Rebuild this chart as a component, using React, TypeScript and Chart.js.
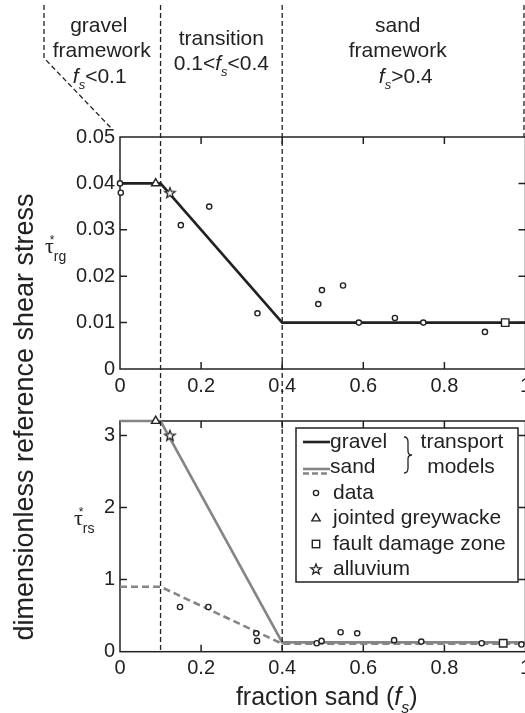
import React, { useEffect, useRef } from 'react';
import { Chart, registerables } from 'chart.js';

Chart.register(...registerables);

// ---------- data ----------
const xTicks = [0, 0.2, 0.4, 0.6, 0.8, 1];
const xTickLabels = ['0', '0.2', '0.4', '0.6', '0.8', '1'];

const gTicks = [0, 0.01, 0.02, 0.03, 0.04, 0.05];
const gTickLabels = ['0', '0.01', '0.02', '0.03', '0.04', '0.05'];
const sTicks = [0, 1, 2, 3];
const sTickLabels = ['0', '1', '2', '3'];

const regionBounds = [0.1, 0.4];
const regionRightEdge = 1;

// top panel: gravel reference shear stress
const gravelModelX = [0, 0.1, 0.4, 1];
const gravelModelY = [0.04, 0.04, 0.01, 0.01];
const gravelDataX = [0, 0.002, 0.15, 0.22, 0.339, 0.489, 0.498, 0.55, 0.589, 0.678, 0.748, 0.9];
const gravelDataY = [0.04, 0.038, 0.031, 0.035, 0.012, 0.014, 0.017, 0.018, 0.01, 0.011, 0.01, 0.008];
const gravelGreywackeX = [0.088];
const gravelGreywackeY = [0.04];
const gravelFaultX = [0.95];
const gravelFaultY = [0.01];
const gravelAlluviumX = [0.123];
const gravelAlluviumY = [0.038];

// bottom panel: sand reference shear stress
const sandModelX = [0, 0.1, 0.4, 1];
const sandModelY = [3.2, 3.2, 0.13, 0.13];
const sandModelDashedX = [0, 0.1, 0.4, 1];
const sandModelDashedY = [0.9, 0.9, 0.11, 0.11];
const sandDataX = [0.148, 0.218, 0.336, 0.338, 0.485, 0.497, 0.544, 0.585, 0.676, 0.743, 0.892, 0.99];
const sandDataY = [0.62, 0.62, 0.255, 0.15, 0.117, 0.15, 0.27, 0.255, 0.16, 0.14, 0.117, 0.1];
const sandGreywackeX = [0.088];
const sandGreywackeY = [3.2];
const sandFaultX = [0.945];
const sandFaultY = [0.117];
const sandAlluviumX = [0.123];
const sandAlluviumY = [3.0];

// ---------- style ----------
const FONT = "'Liberation Sans', Arial, Helvetica, sans-serif";
const SERIF = "'Liberation Serif', 'DejaVu Serif', serif";
const INK = '#222';
const GRAY = '#858585';
const W = 540;
const H = 713;

type Part = [string, 'n' | 'i' | 's'];

function pts(xs: number[], ys: number[]) {
  return xs.map((x, i) => ({ x, y: ys[i] }));
}

function makeStar(): HTMLCanvasElement {
  const size = 16;
  const c = document.createElement('canvas');
  c.width = size;
  c.height = size;
  const g = c.getContext('2d')!;
  g.beginPath();
  for (let i = 0; i < 10; i++) {
    const r = i % 2 ? 2.3 : 5.5;
    const a = -Math.PI / 2 + (i * Math.PI) / 5;
    const px = size / 2 + r * Math.cos(a);
    const py = size / 2 + 0.5 + r * Math.sin(a);
    if (i) g.lineTo(px, py);
    else g.moveTo(px, py);
  }
  g.closePath();
  g.fillStyle = '#fff';
  g.fill();
  g.strokeStyle = INK;
  g.lineWidth = 1.3;
  g.stroke();
  return c;
}

function drawRich(ctx: CanvasRenderingContext2D, parts: Part[], cx: number, base: number, size: number, align: 'center' | 'left' = 'center') {
  const fontFor = (t: string) =>
    t === 'n' ? `${size}px ${FONT}` : t === 'i' ? `italic ${size}px ${FONT}` : `italic ${Math.round(size * 0.62)}px ${FONT}`;
  let total = 0;
  const widths = parts.map(([s, t]) => {
    ctx.font = fontFor(t);
    const w = ctx.measureText(s).width;
    total += w;
    return w;
  });
  let x = align === 'center' ? cx - total / 2 : cx;
  ctx.textAlign = 'left';
  ctx.textBaseline = 'alphabetic';
  parts.forEach(([s, t], i) => {
    ctx.font = fontFor(t);
    ctx.fillText(s, x, t === 's' ? base + size * 0.3 : base);
    x += widths[i];
  });
}

function drawTau(ctx: CanvasRenderingContext2D, x: number, base: number, sub: string) {
  ctx.save();
  ctx.fillStyle = INK;
  ctx.textAlign = 'left';
  ctx.textBaseline = 'alphabetic';
  ctx.font = `22px ${SERIF}`;
  ctx.fillText('τ', x, base);
  const w = ctx.measureText('τ').width;
  ctx.font = `12px ${FONT}`;
  ctx.fillText('*', x + w - 4, base - 9);
  ctx.font = `14px ${FONT}`;
  ctx.fillText(sub, x + w, base + 8);
  ctx.restore();
}

function framePlugin(id: string) {
  return {
    id,
    beforeDatasetsDraw(chart: any) {
      const { ctx, chartArea: a, scales } = chart;
      const xs = scales.x;
      const ys = scales.y;
      ctx.save();
      ctx.strokeStyle = INK;
      ctx.lineWidth = 1.5;
      ctx.strokeRect(a.left, a.top, a.right - a.left, a.bottom - a.top);
      ctx.beginPath();
      const tl = 7;
      xs.ticks.forEach((t: any) => {
        const p = xs.getPixelForValue(t.value);
        if (p <= a.left + 1 || p >= a.right - 1) return;
        ctx.moveTo(p, a.bottom);
        ctx.lineTo(p, a.bottom - tl);
        ctx.moveTo(p, a.top);
        ctx.lineTo(p, a.top + tl);
      });
      ys.ticks.forEach((t: any) => {
        const p = ys.getPixelForValue(t.value);
        if (p <= a.top + 1 || p >= a.bottom - 1) return;
        ctx.moveTo(a.left, p);
        ctx.lineTo(a.left + tl, p);
        ctx.moveTo(a.right, p);
        ctx.lineTo(a.right - tl, p);
      });
      ctx.stroke();
      ctx.restore();
    },
  };
}

function makeOptions(yMin: number, yMax: number, yTicks: number[], yLabels: string[], padTop: number, padBottom: number) {
  return {
    responsive: false,
    animation: false,
    devicePixelRatio: 1,
    events: [],
    layout: { padding: { left: 0, right: 14.5, top: padTop, bottom: padBottom } },
    plugins: { legend: { display: false }, tooltip: { enabled: false } },
    scales: {
      x: {
        type: 'linear',
        min: 0,
        max: 1,
        grid: { display: false, drawTicks: false },
        border: { display: false },
        afterBuildTicks: (s: any) => {
          s.ticks = xTicks.map((v) => ({ value: v }));
        },
        afterFit: (s: any) => {
          s.height = 30;
        },
        ticks: {
          padding: 5,
          color: INK,
          maxRotation: 0,
          autoSkip: false,
          font: { family: FONT, size: 20 },
          callback: (_v: any, i: number) => xTickLabels[i],
        },
      },
      y: {
        type: 'linear',
        min: yMin,
        max: yMax,
        grid: { display: false, drawTicks: false },
        border: { display: false },
        afterBuildTicks: (s: any) => {
          s.ticks = yTicks.map((v) => ({ value: v }));
        },
        afterFit: (s: any) => {
          s.width = 120;
        },
        ticks: {
          padding: 5,
          color: INK,
          autoSkip: false,
          font: { family: FONT, size: 20 },
          callback: (_v: any, i: number) => yLabels[i],
        },
      },
    },
  };
}

function markerSets(star: HTMLCanvasElement, dx: number[], dy: number[], gx: number[], gy: number[], fx: number[], fy: number[], ax: number[], ay: number[]) {
  return [
    { data: pts(ax, ay), pointStyle: star, pointRadius: 6, showLine: false, clip: false },
    { data: pts(fx, fy), pointStyle: 'rect', pointRadius: 5.3, pointBorderWidth: 1.4, pointBorderColor: INK, pointBackgroundColor: '#fff', showLine: false, clip: false },
    { data: pts(gx, gy), pointStyle: 'triangle', pointRadius: 4.8, pointBorderWidth: 1.4, pointBorderColor: INK, pointBackgroundColor: '#fff', showLine: false, clip: false },
    { data: pts(dx, dy), pointStyle: 'circle', pointRadius: 2.6, pointBorderWidth: 1.4, pointBorderColor: INK, pointBackgroundColor: '#fff', showLine: false, clip: false },
  ];
}

export default function App() {
  const topRef = useRef<HTMLCanvasElement>(null);
  const botRef = useRef<HTMLCanvasElement>(null);

  useEffect(() => {
    const star = makeStar();

    // ---------------- top panel ----------------
    const topDecor = {
      id: 'topDecor',
      afterDraw(chart: any) {
        const { ctx, chartArea: a, scales } = chart;
        const xs = scales.x;
        ctx.save();
        ctx.strokeStyle = INK;
        ctx.lineWidth = 1.3;
        ctx.setLineDash([5, 3]);
        const pr = xs.getPixelForValue(regionRightEdge) - 1.5;
        ctx.beginPath();
        ctx.moveTo(pr, 5);
        ctx.lineTo(pr, a.top);
        ctx.stroke();
        const bx = a.left - 76;
        ctx.beginPath();
        ctx.moveTo(bx, 5);
        ctx.lineTo(bx, 58);
        ctx.lineTo(a.left - 7, a.top - 7);
        ctx.stroke();
        ctx.restore();
        drawTau(ctx, a.left - 75, 253, 'rg');
      },
    };

    const top = new Chart(topRef.current!, {
      type: 'scatter',
      data: {
        datasets: [
          ...markerSets(star, gravelDataX, gravelDataY, gravelGreywackeX, gravelGreywackeY, gravelFaultX, gravelFaultY, gravelAlluviumX, gravelAlluviumY),
          { data: pts(gravelModelX, gravelModelY), showLine: true, borderColor: INK, borderWidth: 2.6, pointRadius: 0, clip: false },
        ],
      } as any,
      options: makeOptions(0, 0.05, gTicks, gTickLabels, 137, 713 - 369 - 30) as any,
      plugins: [framePlugin('frameTop'), topDecor],
    });

    // ---------------- bottom panel ----------------
    const botDecor = {
      id: 'botDecor',
      afterDraw(chart: any) {
        const { ctx, chartArea: a, scales } = chart;
        const xs = scales.x;
        ctx.save();
        ctx.strokeStyle = INK;
        ctx.lineWidth = 1.3;
        ctx.setLineDash([5, 3]);
        regionBounds.forEach((v) => {
          const p = xs.getPixelForValue(v);
          ctx.beginPath();
          ctx.moveTo(p, 5);
          ctx.lineTo(p, a.bottom);
          ctx.stroke();
        });
        ctx.setLineDash([]);

        // region headers
        ctx.fillStyle = INK;
        const hs = 21;
        const gx = xs.getPixelForValue(-0.05);
        const tx = xs.getPixelForValue(0.25);
        const sx = xs.getPixelForValue(0.685);
        drawRich(ctx, [['gravel', 'n']], gx - 1, 32, hs);
        drawRich(ctx, [['framework', 'n']], gx + 2, 57, hs);
        drawRich(ctx, [['f', 'i'], ['s', 's'], ['<0.1', 'n']], gx, 83, hs);
        drawRich(ctx, [['transition', 'n']], tx, 45, hs);
        drawRich(ctx, [['0.1<', 'n'], ['f', 'i'], ['s', 's'], ['<0.4', 'n']], tx, 70, hs);
        drawRich(ctx, [['sand', 'n']], sx, 32, hs);
        drawRich(ctx, [['framework', 'n']], sx, 57, hs);
        drawRich(ctx, [['f', 'i'], ['s', 's'], ['>0.4', 'n']], sx + 8, 83, hs);

        // axis titles
        drawRich(ctx, [['fraction sand (', 'n'], ['f', 'i'], ['s', 's'], [')', 'n']], (a.left + a.right) / 2 + 4, 705, 25);
        ctx.save();
        ctx.translate(33, 417);
        ctx.rotate(-Math.PI / 2);
        ctx.font = `27px ${FONT}`;
        ctx.textAlign = 'center';
        ctx.textBaseline = 'alphabetic';
        ctx.fillText('dimensionless reference shear stress', 0, 0);
        ctx.restore();

        drawTau(ctx, a.left - 46, 525, 'rs');

        // legend
        const bR = a.right - 7.5;
        const bL = bR - 222;
        const bT = a.top + 7;
        const bB = bT + 154;
        ctx.fillStyle = '#fff';
        ctx.fillRect(bL, bT, bR - bL, bB - bT);
        ctx.strokeStyle = INK;
        ctx.lineWidth = 1.5;
        ctx.strokeRect(bL, bT, bR - bL, bB - bT);
        const rows = [14, 39, 65, 90.5, 116, 141].map((r) => bT + r);
        const lx0 = bL + 7;
        const lx1 = bL + 34;
        const mx = bL + 20;
        const txx = bL + 37;
        ctx.lineWidth = 2.6;
        ctx.strokeStyle = INK;
        ctx.beginPath();
        ctx.moveTo(lx0, rows[0]);
        ctx.lineTo(lx1, rows[0]);
        ctx.stroke();
        ctx.strokeStyle = GRAY;
        ctx.beginPath();
        ctx.moveTo(lx0, rows[1] + 2);
        ctx.lineTo(lx1, rows[1] + 2);
        ctx.stroke();
        ctx.setLineDash([6, 3]);
        ctx.beginPath();
        ctx.moveTo(lx0, rows[1] + 6.5);
        ctx.lineTo(lx1, rows[1] + 6.5);
        ctx.stroke();
        ctx.setLineDash([]);
        ctx.strokeStyle = INK;
        ctx.fillStyle = '#fff';
        ctx.lineWidth = 1.4;
        ctx.beginPath();
        ctx.arc(mx, rows[2], 2.6, 0, Math.PI * 2);
        ctx.fill();
        ctx.stroke();
        ctx.beginPath();
        const tr = 4.8;
        ctx.moveTo(mx, rows[3] - tr);
        ctx.lineTo(mx + tr * Math.sin((2 * Math.PI) / 3), rows[3] + tr / 2);
        ctx.lineTo(mx - tr * Math.sin((2 * Math.PI) / 3), rows[3] + tr / 2);
        ctx.closePath();
        ctx.fill();
        ctx.stroke();
        ctx.fillRect(mx - 3.7, rows[4] - 3.7, 7.4, 7.4);
        ctx.strokeRect(mx - 3.7, rows[4] - 3.7, 7.4, 7.4);
        ctx.drawImage(star, mx - star.width / 2, rows[5] - star.height / 2);
        ctx.fillStyle = INK;
        ctx.font = `21px ${FONT}`;
        ctx.textAlign = 'left';
        ctx.textBaseline = 'middle';
        ctx.fillText('gravel', txx - 3, rows[0]);
        ctx.fillText('sand', txx - 3, rows[1]);
        ctx.fillText('data', txx, rows[2]);
        ctx.fillText('jointed greywacke', txx, rows[3]);
        ctx.fillText('fault damage zone', txx, rows[4]);
        ctx.fillText('alluvium', txx, rows[5]);
        ctx.textAlign = 'center';
        ctx.fillText('transport', bL + 166, rows[0]);
        ctx.fillText('models', bL + 165, rows[1]);
        const bx = bL + 108;
        const y0 = rows[0] - 5;
        const y1 = rows[1] + 6;
        const ym = (y0 + y1) / 2;
        ctx.strokeStyle = INK;
        ctx.lineWidth = 1.3;
        ctx.beginPath();
        ctx.moveTo(bx, y0);
        ctx.quadraticCurveTo(bx + 4, y0, bx + 4, y0 + 5);
        ctx.lineTo(bx + 4, ym - 4);
        ctx.quadraticCurveTo(bx + 4, ym, bx + 8, ym);
        ctx.quadraticCurveTo(bx + 4, ym, bx + 4, ym + 4);
        ctx.lineTo(bx + 4, y1 - 5);
        ctx.quadraticCurveTo(bx + 4, y1, bx, y1);
        ctx.stroke();
        ctx.restore();
      },
    };

    const bot = new Chart(botRef.current!, {
      type: 'scatter',
      data: {
        datasets: [
          ...markerSets(star, sandDataX, sandDataY, sandGreywackeX, sandGreywackeY, sandFaultX, sandFaultY, sandAlluviumX, sandAlluviumY),
          { data: pts(sandModelX, sandModelY), showLine: true, borderColor: GRAY, borderWidth: 2.6, pointRadius: 0, clip: false },
          { data: pts(sandModelDashedX, sandModelDashedY), showLine: true, borderColor: GRAY, borderWidth: 2.6, borderDash: [7, 4], pointRadius: 0, clip: false },
        ],
      } as any,
      options: makeOptions(0, 3.2, sTicks, sTickLabels, 421, 713 - 651.7 - 30) as any,
      plugins: [framePlugin('frameBot'), botDecor],
    });

    return () => {
      top.destroy();
      bot.destroy();
    };
  }, []);

  const canvasStyle: React.CSSProperties = { position: 'absolute', left: 0, top: 0, width: W, height: H };
  return (
    <div style={{ position: 'fixed', left: 0, top: 0, width: 525, height: 713, overflow: 'hidden', background: '#fff' }}>
      <canvas ref={topRef} width={W} height={H} style={canvasStyle} />
      <canvas ref={botRef} width={W} height={H} style={canvasStyle} />
    </div>
  );
}
